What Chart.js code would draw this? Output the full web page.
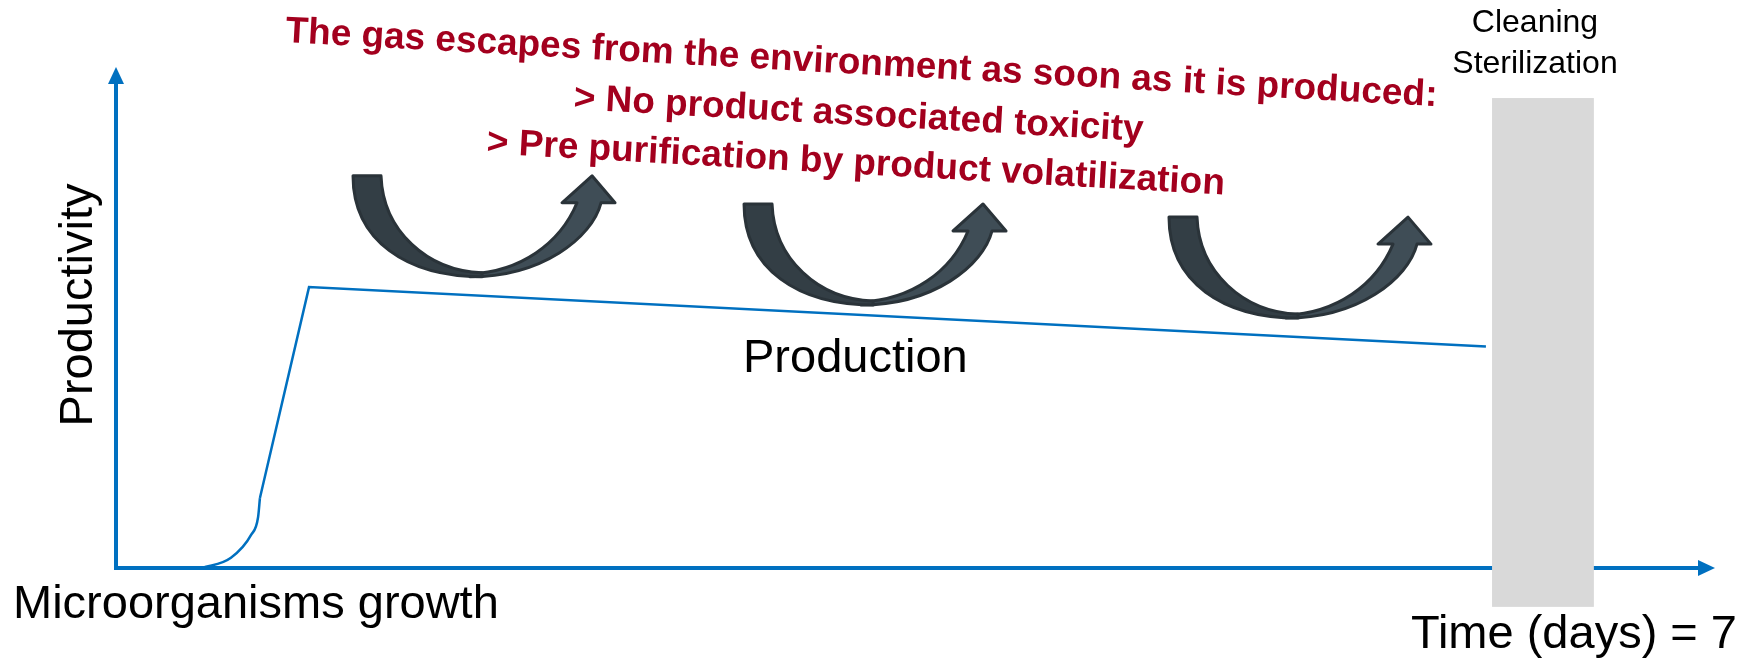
<!DOCTYPE html>
<html>
<head>
<meta charset="utf-8">
<script src="https://cdn.jsdelivr.net/npm/chart.js@4.4.0/dist/chart.umd.min.js"></script>
<style>
  html, body { margin: 0; padding: 0; background: #fff; }
  canvas { display: block; }
</style>
</head>
<body>
<canvas id="chart" width="1752" height="658"></canvas>
<script>
// growth phase (days / productivity)
const growthDays = [0.38, 0.508, 0.597, 0.628, 0.636];
const growthValues = [0, 2.1, 6.8, 10.5, 14.4];

// production phase
const productionDays = [0.636, 0.853, 6.054];
const productionValues = [14.4, 57.8, 45.6];

// cleaning / sterilization block
const cleaningDays = [6.081, 6.531];
const cleaningRange = [-8.0, 96.7];

// gas release arrows (top-left corner of each)
const arrowDays = [1.043, 2.771, 4.649];
const arrowValues = [80.7, 74.9, 72.2];

const xMax = 7;
const yMax = 100;

const redLines = [
    'The gas escapes from the environment as soon as it is produced:',
    '> No product associated toxicity',
    '> Pre purification by product volatilization'
];

const BLUE = '#0070c0';
const FONT = "'Liberation Sans', Arial, sans-serif";

const toPoints = (xs, ys) => xs.map((v, i) => ({ x: v, y: ys[i] }));

// curved arrow, drawn in local pixels from its top-left corner
function drawGasArrow(ctx, left, top) {
    ctx.save();
    ctx.translate(left, top);
    ctx.lineJoin = 'round';
    ctx.lineWidth = 3;
    ctx.strokeStyle = '#2a3339';

    // right half with the head
    ctx.beginPath();
    ctx.moveTo(118, 101);
    ctx.bezierCurveTo(190, 101, 240, 62, 249, 27);
    ctx.lineTo(263, 27);
    ctx.lineTo(240, 0);
    ctx.lineTo(210, 27);
    ctx.lineTo(225, 27);
    ctx.bezierCurveTo(208, 68, 168, 96, 118, 98);
    ctx.closePath();
    ctx.fillStyle = '#3f4d56';
    ctx.fill();
    ctx.stroke();

    // left half
    ctx.beginPath();
    ctx.moveTo(1, 0);
    ctx.lineTo(29, 0);
    ctx.bezierCurveTo(31, 55, 75, 95, 130, 97);
    ctx.lineTo(130, 101);
    ctx.bezierCurveTo(55, 101, 1, 65, 1, 0);
    ctx.closePath();
    ctx.fillStyle = '#333e45';
    ctx.fill();
    ctx.stroke();
    ctx.restore();
}

const schemePlugin = {
    id: 'scheme',
    beforeDatasetsDraw(chart) {
        const { ctx, scales: { x, y } } = chart;
        const x0 = x.getPixelForValue(cleaningDays[0]);
        const x1 = x.getPixelForValue(cleaningDays[1]);
        const yTop = y.getPixelForValue(cleaningRange[1]);
        const yBot = y.getPixelForValue(cleaningRange[0]);
        ctx.save();
        ctx.fillStyle = '#d9d9d9';
        ctx.fillRect(x0, yTop, x1 - x0, yBot - yTop);
        ctx.restore();
    },
    afterDatasetsDraw(chart) {
        const { ctx, chartArea: a, scales: { x, y } } = chart;
        ctx.save();

        // axis arrow heads
        ctx.fillStyle = BLUE;
        ctx.beginPath();
        ctx.moveTo(a.left, a.top - 15);
        ctx.lineTo(a.left + 8, a.top + 2);
        ctx.lineTo(a.left - 8, a.top + 2);
        ctx.closePath();
        ctx.fill();
        ctx.beginPath();
        ctx.moveTo(a.right + 15, a.bottom);
        ctx.lineTo(a.right - 2, a.bottom - 8);
        ctx.lineTo(a.right - 2, a.bottom + 8);
        ctx.closePath();
        ctx.fill();

        // gas arrows
        arrowDays.forEach((d, i) => {
            drawGasArrow(ctx, x.getPixelForValue(d), y.getPixelForValue(arrowValues[i]));
        });

        // black labels
        ctx.fillStyle = '#000';
        ctx.textBaseline = 'alphabetic';
        ctx.font = '47px ' + FONT;
        ctx.textAlign = 'left';
        ctx.fillText('Microorganisms growth', 13, 618);
        ctx.fillText('Production', 743, 372);
        ctx.textAlign = 'right';
        ctx.fillText('Time (days) = 7', 1737, 648);

        ctx.save();
        ctx.translate(92, 305);
        ctx.rotate(-Math.PI / 2);
        ctx.textAlign = 'center';
        ctx.fillText('Productivity', 0, 0);
        ctx.restore();

        ctx.font = '32px ' + FONT;
        ctx.textAlign = 'center';
        ctx.fillText('Cleaning', 1535, 32);
        ctx.fillText('Sterilization', 1535, 73);

        // red tilted note
        ctx.save();
        ctx.translate(858, 125);
        ctx.rotate(3.2 * Math.PI / 180);
        ctx.fillStyle = '#a3001e';
        ctx.font = 'bold 37px ' + FONT;
        ctx.textAlign = 'center';
        const offsets = [-51, 0, 49];
        redLines.forEach((t, i) => ctx.fillText(t, 0, offsets[i]));
        ctx.restore();

        ctx.restore();
    }
};

new Chart(document.getElementById('chart').getContext('2d'), {
    type: 'line',
    data: {
        datasets: [
            {
                label: 'growth',
                data: toPoints(growthDays, growthValues),
                borderColor: BLUE,
                borderWidth: 2.5,
                pointRadius: 0,
                cubicInterpolationMode: 'monotone',
                fill: false
            },
            {
                label: 'production',
                data: toPoints(productionDays, productionValues),
                borderColor: BLUE,
                borderWidth: 2.5,
                pointRadius: 0,
                tension: 0,
                fill: false
            }
        ]
    },
    options: {
        responsive: false,
        animation: false,
        devicePixelRatio: 1,
        layout: { padding: { left: 116, right: 52, top: 82, bottom: 90 } },
        plugins: { legend: { display: false }, tooltip: { enabled: false } },
        scales: {
            x: {
                type: 'linear', min: 0, max: xMax,
                grid: { display: false, drawTicks: false },
                ticks: { display: false },
                border: { color: BLUE, width: 4 }
            },
            y: {
                type: 'linear', min: 0, max: yMax,
                grid: { display: false, drawTicks: false },
                ticks: { display: false },
                border: { color: BLUE, width: 4 }
            }
        }
    },
    plugins: [schemePlugin]
});
</script>
</body>
</html>
